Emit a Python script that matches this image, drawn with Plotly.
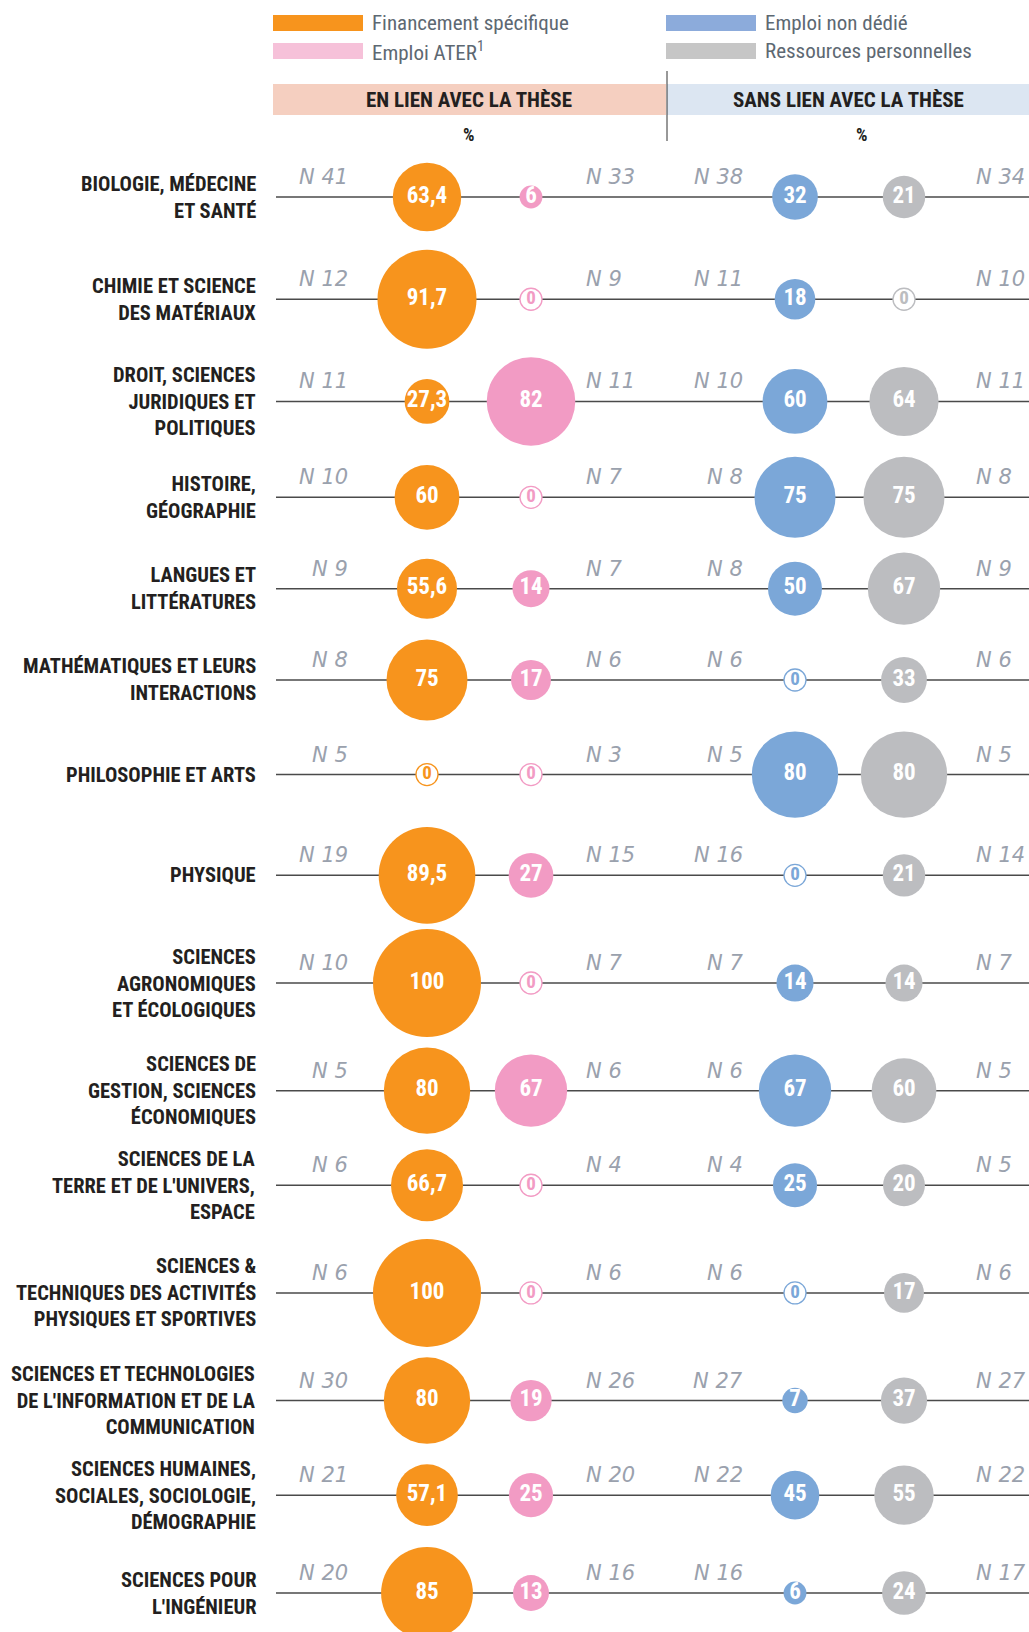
import math
import plotly.graph_objects as go

# ---------------- data ----------------
categories = [
    "BIOLOGIE, MÉDECINE<br>ET SANTÉ",
    "CHIMIE ET SCIENCE<br>DES MATÉRIAUX",
    "DROIT, SCIENCES<br>JURIDIQUES ET<br>POLITIQUES",
    "HISTOIRE,<br>GÉOGRAPHIE",
    "LANGUES ET<br>LITTÉRATURES",
    "MATHÉMATIQUES ET LEURS<br>INTERACTIONS",
    "PHILOSOPHIE ET ARTS",
    "PHYSIQUE",
    "SCIENCES<br>AGRONOMIQUES<br>ET ÉCOLOGIQUES",
    "SCIENCES DE<br>GESTION, SCIENCES<br>ÉCONOMIQUES",
    "SCIENCES DE LA<br>TERRE ET DE L'UNIVERS,<br>ESPACE",
    "SCIENCES &<br>TECHNIQUES DES ACTIVITÉS<br>PHYSIQUES ET SPORTIVES",
    "SCIENCES ET TECHNOLOGIES<br>DE L'INFORMATION ET DE LA<br>COMMUNICATION",
    "SCIENCES HUMAINES,<br>SOCIALES, SOCIOLOGIE,<br>DÉMOGRAPHIE",
    "SCIENCES POUR<br>L'INGÉNIEUR",
]

financement = [63.4, 91.7, 27.3, 60, 55.6, 75, 0, 89.5, 100, 80, 66.7, 100, 80, 57.1, 85]
ater = [6, 0, 82, 0, 14, 17, 0, 27, 0, 67, 0, 0, 19, 25, 13]
emploi = [32, 18, 60, 75, 50, 0, 80, 0, 14, 67, 25, 0, 7, 45, 6]
perso = [21, 0, 64, 75, 67, 33, 80, 21, 14, 60, 20, 17, 37, 55, 24]

n_financement = [41, 12, 11, 10, 9, 8, 5, 19, 10, 5, 6, 6, 30, 21, 20]
n_ater = [33, 9, 11, 7, 7, 6, 3, 15, 7, 6, 4, 6, 26, 20, 16]
n_emploi = [38, 11, 10, 8, 8, 6, 5, 16, 7, 6, 4, 6, 27, 22, 16]
n_perso = [34, 10, 11, 8, 9, 6, 5, 14, 7, 5, 5, 6, 27, 22, 17]

legend_labels = ["Financement spécifique", "Emploi ATER<sup>1</sup>",
                 "Emploi non dédié", "Ressources personnelles"]
group_labels = ["EN LIEN AVEC LA THÈSE", "SANS LIEN AVEC LA THÈSE"]

# ---------------- style / layout ----------------
W, H = 1029, 1632
ORANGE, PINK, BLUE, GREY = "#f7941d", "#f29bc4", "#7ba7d8", "#bcbdc0"
LEG_COLORS = ["#f7941d", "#f6c1d9", "#8cabdb", "#c6c6c6"]
COND = "Liberation Sans Narrow, Roboto Condensed, DejaVu Sans Condensed, Roboto, sans-serif"
DARK = "#231f20"

col_x = {"fin": 427, "ater": 531, "emploi": 795, "perso": 904}
FIRST_ROW, LAST_ROW = 197, 1593   # pixel centre of first / last row


def bubble_size(v):
    if v == 0:
        return 22
    return max(1.08 * v, 47 * (1 - math.exp(-v / 9)))


def fmt(v):
    return str(int(v)) if float(v).is_integer() else f"{v}".replace(".", ",")


# rows spaced according to the largest bubble of neighbouring rows
row_max = [max(bubble_size(v) for v in vals)
           for vals in zip(financement, ater, emploi, perso)]
gaps = [0.6 * max(a, b) + 42 for a, b in zip(row_max[:-1], row_max[1:])]
scale = (LAST_ROW - FIRST_ROW) / sum(gaps)
rows = [FIRST_ROW]
for g in gaps:
    rows.append(rows[-1] + g * scale)

fig = go.Figure()

# row lines
for r in rows:
    fig.add_shape(type="line", xref="x", yref="y", x0=276, x1=W, y0=r, y1=r,
                  line=dict(color="#4a4a4a", width=1.5), layer="below")

series = [("fin", financement, ORANGE), ("ater", ater, PINK),
          ("emploi", emploi, BLUE), ("perso", perso, GREY)]
for key, vals, col in series:
    fig.add_trace(go.Scatter(
        x=[col_x[key]] * len(vals), y=rows, mode="markers+text",
        text=[fmt(v) for v in vals], textposition="middle center",
        marker=dict(size=[bubble_size(v) for v in vals],
                    color=["white" if v == 0 else col for v in vals],
                    line=dict(color=col, width=[1.3 if v == 0 else 0 for v in vals]),
                    opacity=1),
        textfont=dict(family=COND, size=[19 if v == 0 else 23 for v in vals],
                      color=[col if v == 0 else "white" for v in vals], weight="bold"),
        cliponaxis=False, hoverinfo="skip", showlegend=False))

annotations = []
# category labels
for r, c in zip(rows, categories):
    annotations.append(dict(x=258, y=r, xref="x", yref="y", text=c, showarrow=False,
                            xanchor="right", yanchor="middle", align="right",
                            font=dict(family=COND, size=20.5, color=DARK, weight="bold")))

# N labels
n_specs = [(n_financement, 350, "right"), (n_ater, 584, "left"),
           (n_emploi, 745, "right"), (n_perso, 974, "left")]
for arr, x, anc in n_specs:
    for r, n in zip(rows, arr):
        annotations.append(dict(x=x, y=r, xref="x", yref="y", text=f"N {n}", showarrow=False,
                                xanchor=anc, yanchor="middle", yshift=20,
                                font=dict(family="DejaVu Sans", size=21, color="#9aa1ad",
                                          style="italic")))

# legend
leg_pos = [(273, 23), (273, 51), (666, 23), (666, 51)]
for (x, y), lab, col in zip(leg_pos, legend_labels, LEG_COLORS):
    fig.add_shape(type="rect", xref="x", yref="y", x0=x, x1=x + 90,
                  y0=y - 8, y1=y + 8, fillcolor=col, line=dict(width=0))
    annotations.append(dict(x=x + 97, y=y, xref="x", yref="y", text=lab,
                            showarrow=False, xanchor="left", yanchor="middle",
                            font=dict(family=COND, size=21, color="#5d6872")))

# group header bands
bands = [(273, 666, "#f5cfc0", 469, 469), (667, W, "#dce6f2", 848, 862)]
for (x0, x1, col, xc, xp), lab in zip(bands, group_labels):
    fig.add_shape(type="rect", xref="x", yref="y", x0=x0, x1=x1,
                  y0=84, y1=115, fillcolor=col, line=dict(width=0), layer="below")
    annotations.append(dict(x=xc, y=100, xref="x", yref="y", text=lab,
                            showarrow=False, xanchor="center", yanchor="middle",
                            font=dict(family=COND, size=21, color=DARK, weight="bold")))
    annotations.append(dict(x=xp, y=134, xref="x", yref="y", text="%",
                            showarrow=False, xanchor="center", yanchor="middle",
                            font=dict(family=COND, size=18, color=DARK, weight="bold")))

fig.add_shape(type="line", xref="x", yref="y", x0=667, x1=667, y0=71, y1=141,
              line=dict(color="#333333", width=1))

fig.update_layout(
    width=W, height=H, margin=dict(l=0, r=0, t=0, b=0),
    paper_bgcolor="white", plot_bgcolor="white",
    xaxis=dict(range=[0, W], visible=False, fixedrange=True),
    yaxis=dict(range=[H, 0], visible=False, fixedrange=True),
    annotations=annotations,
)

fig.write_html("out.html", config={"displayModeBar": False},
               post_script="document.body.style.margin='0';"
                           "document.documentElement.style.overflow='hidden';")
